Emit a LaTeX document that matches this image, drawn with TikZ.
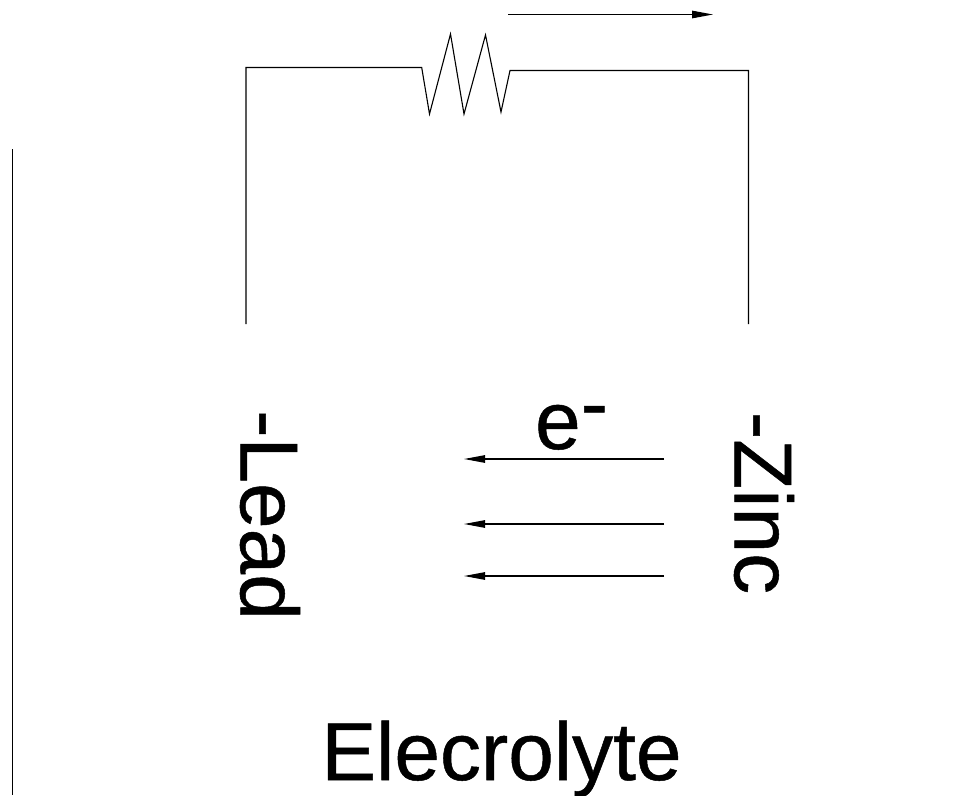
\documentclass[tikz,border=0pt]{standalone}
\usepackage{fontspec}
\setmainfont{Liberation Sans}[BoldFont=Liberation Sans,BoldFeatures={FakeBold=0.6}]
\usetikzlibrary{arrows.meta}
\tikzset{wire/.style={line width=1.1pt,black},
 flow/.style={wire,-{Stealth[length=21pt,width=7.5pt,inset=0pt]}},
 lab/.style={inner sep=0pt,font=\fontsize{82}{82}\selectfont\bfseries}}
\begin{document}
\begin{tikzpicture}[x=1pt,y=-1pt]
\useasboundingbox (0,0) rectangle (976,795);
\fill[white] (0,0) rectangle (976,795);
\coordinate (leadtop) at (246,324);
\coordinate (lc) at (246,67.5);
\coordinate (r1) at (421.7,67.5);
\coordinate (r2) at (510,70.5);
\coordinate (zc) at (748.5,70.5);
\coordinate (zinctop) at (748.5,324);
\draw[wire,line join=miter] (leadtop) -- (lc) -- (r1) -- (429.5,114) -- (450.5,34) -- (464,114) -- (485.5,35) -- (501,112) -- (r2) -- (zc) -- (zinctop);
\coordinate (a0) at (508,14.5); \coordinate (a1) at (713,14.5);
\draw[flow] (a0) -- (a1);
\coordinate (b0) at (664,459); \coordinate (b1) at (464,459);
\coordinate (c0) at (664,524); \coordinate (c1) at (464,524);
\coordinate (d0) at (664,576); \coordinate (d1) at (464,576);
\draw[flow] (b0) -- (b1);
\draw[flow] (c0) -- (c1);
\draw[flow] (d0) -- (d1);
\coordinate (frame0) at (12.5,149); \coordinate (frame1) at (12.5,795);
\draw[wire] (frame0) -- (frame1);
\node[lab,rotate=-90] (lead) at (270,515) {-Lead};
\node[lab,rotate=-90] (zinc) at (764,503) {-Zinc};
\node[lab,anchor=base] (elec) at (501.5,780) {Elecrolyte};
\node[lab,anchor=base] (e) at (571.5,449) {e\raisebox{18pt}{-}};
\end{tikzpicture}
\end{document}
